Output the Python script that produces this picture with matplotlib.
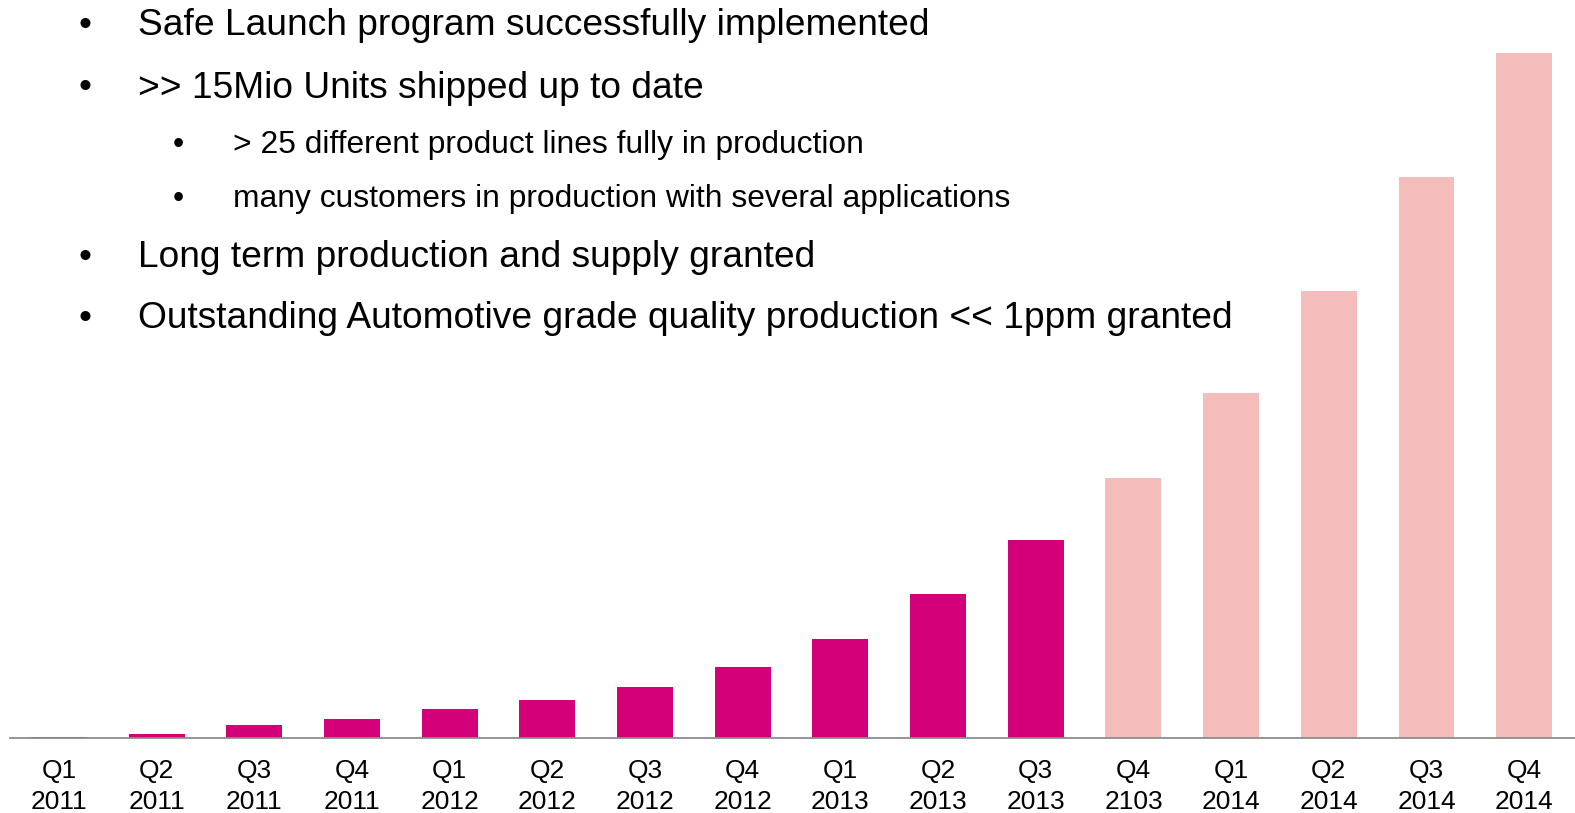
import numpy as np
import matplotlib.pyplot as plt

plt.rcParams['font.family'] = ['Liberation Sans', 'DejaVu Sans']

# quarters and shipped volume (relative units)
quarters = ['Q1', 'Q2', 'Q3', 'Q4', 'Q1', 'Q2', 'Q3', 'Q4',
            'Q1', 'Q2', 'Q3', 'Q4', 'Q1', 'Q2', 'Q3', 'Q4']
years = ['2011', '2011', '2011', '2011', '2012', '2012', '2012', '2012',
         '2013', '2013', '2013', '2103', '2014', '2014', '2014', '2014']
actual = [0.6, 3.6, 12.6, 19, 28.3, 37.6, 50.6, 70.3, 98.6, 143.3, 197.6]
forecast = [259.3, 344.3, 446.3, 560.3, 684.3]

bullets = [
    (0, 'Safe Launch program successfully implemented'),
    (0, '>> 15Mio Units shipped up to date'),
    (1, '> 25 different product lines fully in production'),
    (1, 'many customers in production with several applications'),
    (0, 'Long term production and supply granted'),
    (0, 'Outstanding Automotive grade quality production << 1ppm granted'),
]

W, H = 1575, 813
fig = plt.figure(figsize=(W / 100, H / 100), dpi=100)
ax = fig.add_axes([10 / W, 75.5 / H, 1 - 10 / W, 1 - 75.5 / H])

x_act = np.arange(len(actual))
x_fc = np.arange(len(actual), len(actual) + len(forecast))
ax.bar(x_act, actual, width=0.573, color='#D4007A', zorder=2)
ax.bar(x_fc, forecast, width=0.573, color='#F4BCBA', zorder=2)

ax.set_xlim(-0.5, 15.52)
ax.set_ylim(0, 737.5)
ax.set_xticks(np.arange(len(quarters)))
ax.set_xticklabels([q + '\n' + y for q, y in zip(quarters, years)],
                   fontsize=19, linespacing=1.35)
ax.tick_params(axis='x', length=0, pad=15.5)
ax.set_yticks([])
for s in ['top', 'left', 'right']:
    ax.spines[s].set_visible(False)
ax.spines['bottom'].set_color('#8c8c8c')
ax.spines['bottom'].set_linewidth(1.3)
ax.spines['bottom'].set_zorder(3)

# bullet text (pixel coordinates from the top)
baselines = [35, 97.5, 153, 207.3, 267, 327.5]
for (lvl, txt), yb in zip(bullets, baselines):
    size = 26.7 if lvl == 0 else 22.9
    bx = 85.4 if lvl == 0 else 178.8
    tx = 137.6 if lvl == 0 else 233
    fig.text(bx / W, 1 - yb / H, '•', fontsize=size, ha='center', va='baseline')
    fig.text(tx / W, 1 - yb / H, txt, fontsize=size, ha='left', va='baseline')

fig.savefig('out.png', dpi=100)
